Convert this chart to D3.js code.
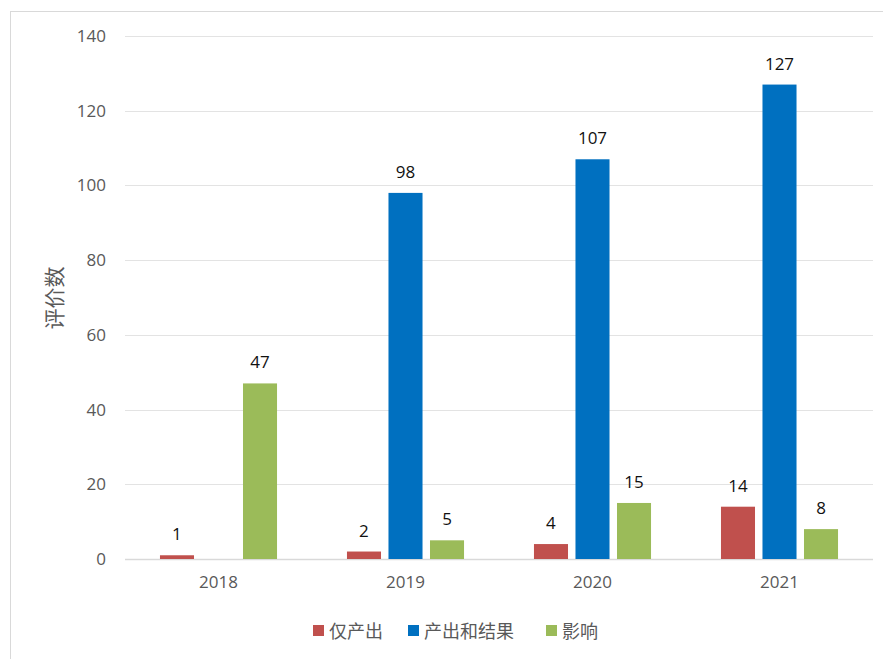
<!DOCTYPE html>
<html>
<head>
<meta charset="utf-8">
<script src="https://cdn.jsdelivr.net/npm/d3@7/dist/d3.min.js"></script>
<style>
  html, body { margin: 0; padding: 0; background: #ffffff; }
  svg { display: block; font-family: "Open Sans", "Noto Sans CJK SC", sans-serif; }
</style>
</head>
<body>
<div id="chart"></div>
<script>
// grouped bar chart — evaluations per year by type

const years = ['2018', '2019', '2020', '2021'];
const seriesNames = ['仅产出', '产出和结果', '影响'];
const outputOnly = [1, 2, 4, 14];
const outputAndResult = [null, 98, 107, 127];
const impact = [47, 5, 15, 8];
const yTicks = [0, 20, 40, 60, 80, 100, 120, 140];
const colors = ['#C0504D', '#0070C0', '#9BBB59'];

const width = 883;
const height = 659;
const margin = { top: 36, right: 10, bottom: 100, left: 125 };

const svg = d3.select('#chart')
    .append('svg')
    .attr('width', width)
    .attr('height', height);

// outer chart frame (only left and top visible in the picture)
svg.append('rect')
    .attr('x', 10.5)
    .attr('y', 11.5)
    .attr('width', width + 20)
    .attr('height', height + 20)
    .attr('fill', 'none')
    .attr('stroke', '#D9D9D9');

const x0 = d3.scaleBand()
    .domain(years)
    .range([margin.left, width - margin.right])
    .paddingInner(0.374)
    .paddingOuter(0.187);

const x1 = d3.scaleBand()
    .domain(seriesNames)
    .range([0, x0.bandwidth()])
    .paddingInner(0.18);

const y = d3.scaleLinear()
    .domain([0, 140])
    .range([559, 36]);

// gridlines
svg.append('g')
    .selectAll('line')
    .data(yTicks)
    .join('line')
    .attr('x1', margin.left)
    .attr('x2', width - margin.right)
    .attr('y1', d => Math.round(y(d)) + 0.5)
    .attr('y2', d => Math.round(y(d)) + 0.5)
    .attr('stroke', d => d === 0 ? '#D9D9D9' : '#E3E3E3')
    .attr('stroke-width', d => d === 0 ? 1.5 : 1);

// y axis labels
const yAxis = d3.axisLeft(y).tickValues(yTicks).tickSize(0).tickPadding(0);
svg.append('g')
    .attr('transform', 'translate(106,0)')
    .call(yAxis)
    .call(g => g.select('.domain').remove())
    .selectAll('text')
    .attr('fill', '#595959')
    .attr('font-size', '17px')
    .attr('font-family', '"Open Sans", sans-serif');

// x axis labels
const xAxis = d3.axisBottom(x0).tickSize(0).tickPadding(0);
svg.append('g')
    .attr('transform', 'translate(0,576)')
    .call(xAxis)
    .call(g => g.select('.domain').remove())
    .selectAll('text')
    .attr('fill', '#595959')
    .attr('font-size', '17px')
    .attr('font-family', '"Open Sans", sans-serif');

// y axis title
svg.append('text')
    .attr('transform', 'translate(62,298) rotate(-90)')
    .attr('text-anchor', 'middle')
    .attr('fill', '#595959')
    .attr('font-size', '21px')
    .attr('font-family', '"Noto Sans CJK SC", sans-serif')
    .text('评价数');

// build rows for bars
const seriesValues = [outputOnly, outputAndResult, impact];
const rows = [];
years.forEach((yr, i) => {
    seriesNames.forEach((name, j) => {
        const v = seriesValues[j][i];
        if (v === null) return;
        rows.push({ year: yr, series: name, value: v, color: colors[j] });
    });
});

const bars = svg.append('g');
bars.selectAll('rect')
    .data(rows)
    .join('rect')
    .attr('x', d => x0(d.year) + x1(d.series))
    .attr('y', d => y(d.value))
    .attr('width', x1.bandwidth())
    .attr('height', d => y(0) - y(d.value))
    .attr('fill', d => d.color);

// data labels
bars.selectAll('text')
    .data(rows)
    .join('text')
    .attr('x', d => x0(d.year) + x1(d.series) + x1.bandwidth() / 2)
    .attr('y', d => y(d.value) - 15)
    .attr('text-anchor', 'middle')
    .attr('fill', '#111111')
    .attr('font-size', '17px')
    .attr('font-family', '"Open Sans", sans-serif')
    .text(d => d.value);

// legend
const legendX = [313, 408, 546];
const legend = svg.append('g');
seriesNames.forEach((name, j) => {
    legend.append('rect')
        .attr('x', legendX[j])
        .attr('y', 625)
        .attr('width', 11)
        .attr('height', 11)
        .attr('fill', colors[j]);
    legend.append('text')
        .attr('x', legendX[j] + 16)
        .attr('y', 638)
        .attr('fill', '#595959')
        .attr('font-size', '18px')
        .attr('font-family', '"Noto Sans CJK SC", sans-serif')
        .text(name);
});
</script>
</body>
</html>
